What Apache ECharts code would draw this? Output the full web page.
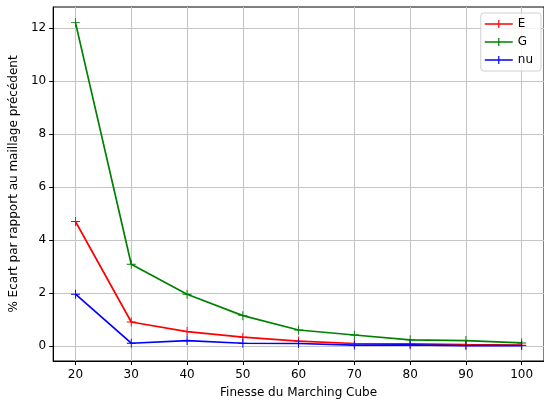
<!DOCTYPE html>
<html>
<head>
<meta charset="utf-8">
<script src="https://cdn.jsdelivr.net/npm/echarts@6/dist/echarts.min.js"></script>
<style>html,body{margin:0;padding:0;background:#fff;}#c{width:544px;height:404px;}</style>
</head>
<body>
<div id="c"></div>
<script>
const categories = [20, 30, 40, 50, 60, 70, 80, 90, 100];
const E  = [4.70, 0.91, 0.55, 0.34, 0.19, 0.10, 0.09, 0.06, 0.04];
const G  = [12.20, 3.09, 1.96, 1.15, 0.61, 0.42, 0.24, 0.21, 0.12];
const nu = [1.96, 0.11, 0.21, 0.11, 0.10, 0.04, 0.05, 0.02, 0.02];
const xTicks = [20, 30, 40, 50, 60, 70, 80, 90, 100];
const yTicks = [0, 2, 4, 6, 8, 10, 12];

const FONT = 'DejaVu Sans';
const plus = 'path://M0,4.5L10,4.5L10,5.5L0,5.5Z M4.5,0L5.5,0L5.5,10L4.5,10Z';
const legendIcon = 'path://M0,4.3L28,4.3L28,5.7L0,5.7Z M13.4,1L14.6,1L14.6,9L13.4,9Z';

function pairs(arr){ return categories.map((c,i)=>[c, arr[i]]); }
function mk(name, data, color){
  return {
    name, type:'line', data: pairs(data),
    symbol: plus, symbolSize: 9, showSymbol: true,
    lineStyle:{color, width:1.7}, itemStyle:{color},
    emphasis:{disabled:true}, animation:false
  };
}

const chart = echarts.init(document.getElementById('c'), null, {renderer:'canvas'});
chart.setOption({
  animation:false,
  backgroundColor:'#fff',
  grid:{left:53, top:7, width:492, height:356, containLabel:false, show:true, borderColor:'#000', borderWidth:1, backgroundColor:'transparent'},
  xAxis:{
    type:'value', min:16, max:104,
    name:'Finesse du Marching Cube', nameLocation:'middle', nameGap:26,
    nameTextStyle:{fontFamily:FONT, fontSize:12, color:'#000'},
    axisLine:{show:true, onZero:false, lineStyle:{color:'#000', width:1}},
    axisTick:{show:true, length:4, lineStyle:{color:'#000'}, customValues:xTicks},
    axisLabel:{fontFamily:FONT, fontSize:12, color:'#000', margin:8, customValues:xTicks},
    splitLine:{show:true, lineStyle:{color:'#c4c4c4', width:1}}
  },
  yAxis:{
    type:'value', min:-0.56, max:12.79,
    name:'% Ecart par rapport au maillage précédent', nameLocation:'middle', nameGap:29,
    nameTextStyle:{fontFamily:FONT, fontSize:12, color:'#000'},
    axisLine:{show:true, onZero:false, lineStyle:{color:'#000', width:1}},
    axisTick:{show:true, length:4, lineStyle:{color:'#000'}, customValues:yTicks},
    axisLabel:{fontFamily:FONT, fontSize:12, color:'#000', margin:7, customValues:yTicks},
    splitLine:{show:true, lineStyle:{color:'#c4c4c4', width:1}}
  },
  legend:{
    right:3, top:13, orient:'vertical',
    itemWidth:28, itemHeight:10, itemGap:6,
    icon: legendIcon,
    padding:[5,8,5,4],
    backgroundColor:'rgba(255,255,255,0.8)',
    borderColor:'#d0d0d0', borderWidth:1, borderRadius:3,
    textStyle:{fontFamily:FONT, fontSize:12, color:'#000'},
    data:['E','G','nu']
  },
  series:[ mk('E', E, '#ff0000'), mk('G', G, '#008000'), mk('nu', nu, '#0000ff') ]
});
</script>
</body>
</html>
